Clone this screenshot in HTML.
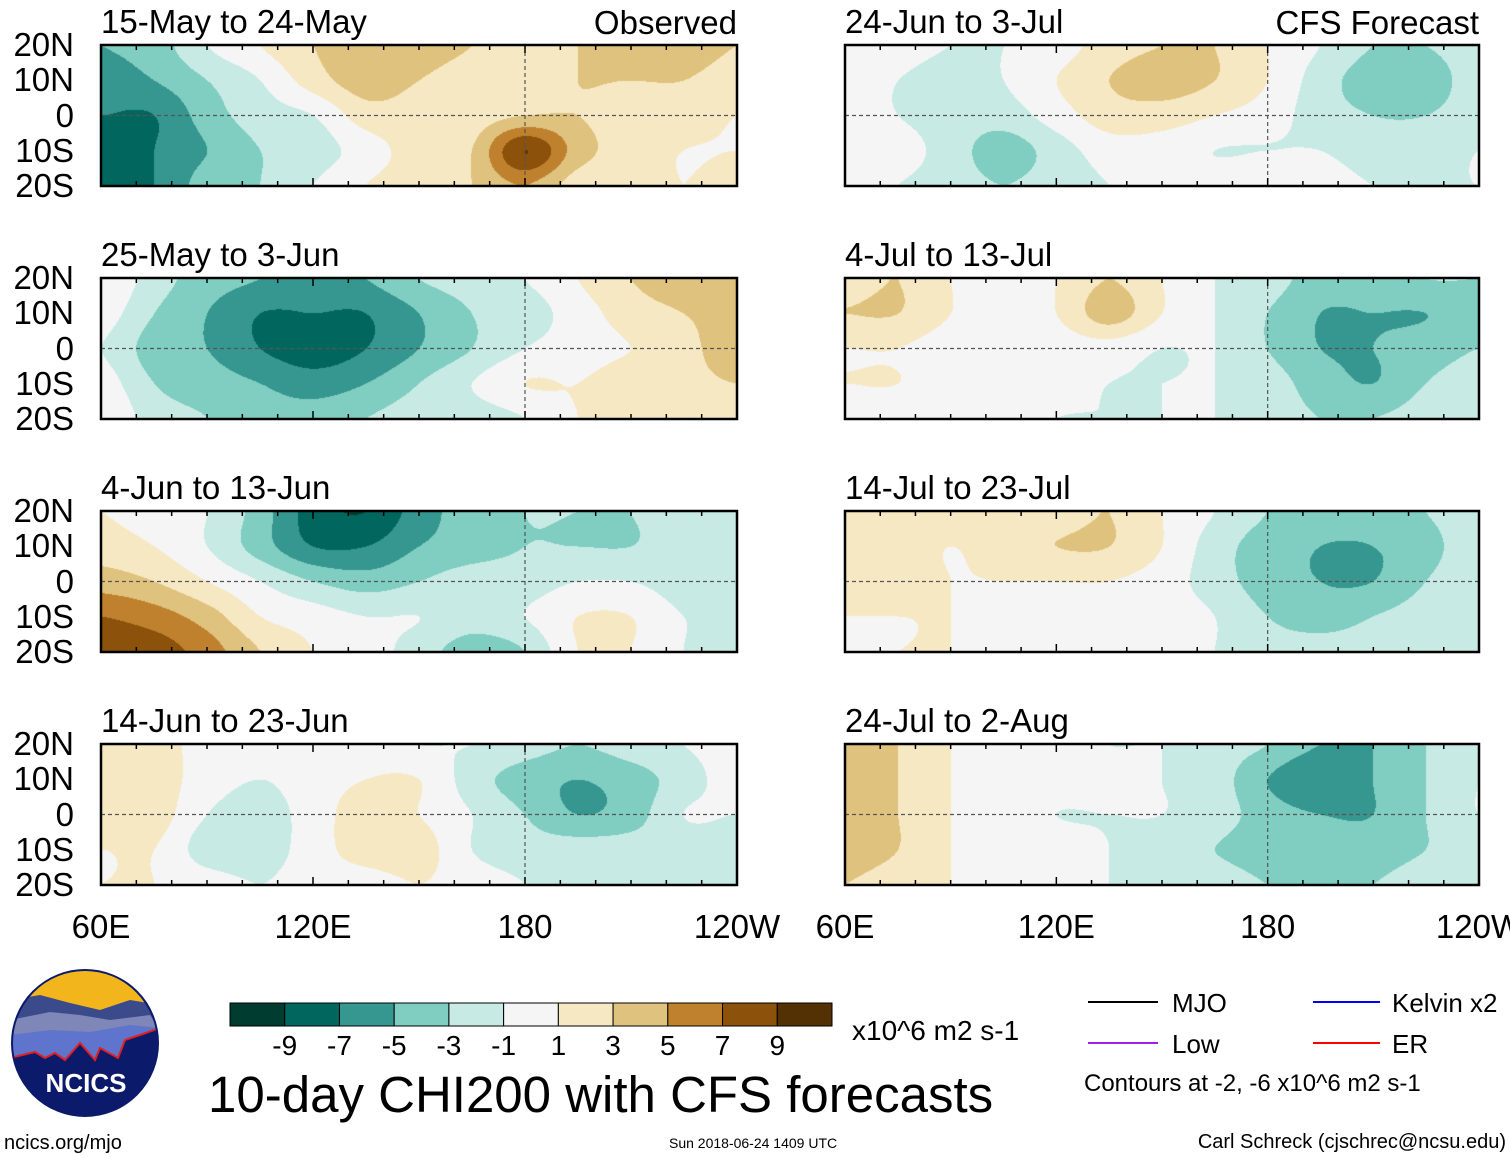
<!DOCTYPE html>
<html><head><meta charset="utf-8">
<style>
body{margin:0;width:1510px;height:1158px;background:#fff;position:relative;overflow:hidden;font-family:"Liberation Sans",sans-serif;color:#000}
.t{position:absolute;white-space:nowrap;line-height:1}
canvas{position:absolute}
</style></head><body>
<svg id="ov" width="1510" height="1158" style="position:absolute;left:0;top:0;z-index:2"></svg>
<div id="txt" style="position:absolute;left:0;top:0;width:1510px;height:1158px;overflow:hidden;z-index:3"></div>

<svg width="1510" height="1158" style="position:absolute;left:0;top:0;z-index:4">
 <g>
  <defs><clipPath id="lc"><circle cx="85" cy="1043" r="73"/></clipPath></defs>
  <g clip-path="url(#lc)">
   <rect x="0" y="960" width="180" height="170" fill="#f2b51c"/>
   <path d="M10 1000 L40 995 L70 1003 L100 1010 L130 1000 L160 1005 L160 1060 L10 1060Z" fill="#3a4a8a"/>
   <path d="M10 1020 L50 1012 L80 1015 L110 1020 L150 1015 L160 1030 L160 1070 L10 1070Z" fill="#7f86b8"/>
   <path d="M10 1035 L50 1030 L90 1032 L130 1025 L160 1028 L160 1070 L10 1070Z" fill="#5f74cc"/>
   <path d="M10 1058 L35 1052 L45 1058 L55 1053 L65 1060 L80 1043 L95 1060 L100 1048 L118 1058 L125 1040 L140 1035 L160 1028 L160 1130 L10 1130Z" fill="#0c1a6b" stroke="#e02020" stroke-width="2"/>
  </g>
  <circle cx="85" cy="1043" r="73" fill="none" stroke="#0c1a6b" stroke-width="2"/>
  <text x="86" y="1092" font-size="26" font-weight="bold" fill="#fff" text-anchor="middle" font-family="Liberation Sans">NCICS</text>
 </g>
 <text x="4" y="1149" font-size="20" font-family="Liberation Sans">ncics.org/mjo</text>
 <g id="cbar"></g>
 <text x="852" y="1040" font-size="28" font-family="Liberation Sans">x10^6 m2 s-1</text>
 <text x="208" y="1112" font-size="51" font-family="Liberation Sans">10-day CHI200 with CFS forecasts</text>
 <text x="669" y="1148" font-size="14" font-family="Liberation Sans">Sun 2018-06-24 1409 UTC</text>
 <text x="1506" y="1148" font-size="20" text-anchor="end" font-family="Liberation Sans">Carl Schreck (cjschrec@ncsu.edu)</text>
 <g font-family="Liberation Sans" font-size="26">
  <line x1="1088" y1="1002" x2="1158" y2="1002" stroke="#000" stroke-width="2"/><text x="1172" y="1012">MJO</text>
  <line x1="1313" y1="1002" x2="1380" y2="1002" stroke="#0000ff" stroke-width="2"/><text x="1392" y="1012">Kelvin x2</text>
  <line x1="1088" y1="1043" x2="1158" y2="1043" stroke="#a020f0" stroke-width="2"/><text x="1172" y="1053">Low</text>
  <line x1="1313" y1="1043" x2="1380" y2="1043" stroke="#ff0000" stroke-width="2"/><text x="1392" y="1053">ER</text>
  <text x="1084" y="1091" font-size="24">Contours at -2, -6 x10^6 m2 s-1</text>
 </g>
</svg>

<script>
// ---- data ----
const lons = [60,75,90,105,120,135,150,165,180,195,210,225,240];
const lats = [20,10,0,-10,-20];
const levels = [-9,-7,-5,-3,-1,1,3,5,7,9];
const colors = ["#003c30","#01665e","#35978f","#80cdc1","#c7eae5","#f5f5f5","#f6e8c3","#dfc27d","#bf812d","#8c510a","#543005"];
const titles = ["15-May to 24-May","25-May to 3-Jun","4-Jun to 13-Jun","14-Jun to 23-Jun","24-Jun to 3-Jul","4-Jul to 13-Jul","14-Jul to 23-Jul","24-Jul to 2-Aug"];
const latLabels = ["20N","10N","0","10S","20S"];
const lonLabels = ["60E","120E","180","120W"];
const p1 = [[-5,-4,-1,1,3,4,4,3,2,3,4,4,3],[-6,-5,-3,-1,2,4,3,2,2,3,3,3,2],[-7,-7,-4,-2,-1,2,2,2,3,3,2,2,1],[-8,-7,-5,-3,-2,0,2,3,9,4,2,1,1],[-8,-7,-4,-3,-1,1,2,3,5,2,2,1,2]];
const p2 = [[1,-2,-4,-5,-6,-5,-3,-2,-1,1,3,4,4],[0,-3,-5,-7,-7,-7,-5,-3,-2,0,2,3,4],[-1,-4,-5,-7,-8,-7,-5,-3,-1,0,1,2,5],[0,-3,-4,-5,-6,-5,-3,-1,1,1,2,2,3],[1,-2,-3,-4,-4,-3,-2,-2,-1,1,1,1,1]];
const p3 = [[1,0,-1,-4,-8,-9,-6,-4,-3,-3,-3,-2,-2],[2,1,-1,-4,-7,-7,-5,-4,-3,-3,-3,-2,-2],[4,3,1,-1,-3,-4,-3,-2,-2,-1,-1,-2,-2],[7,6,4,1,0,-1,-1,-2,-1,1,1,-1,-1],[8,8,6,3,1,0,-2,-4,-3,1,1,-1,-2]];
const p4 = [[1,2,0,0,-1,0,-1,-1,-2,-3,-2,-1,0],[2,2,0,-1,0,1,1,-2,-4,-5,-4,-2,0],[2,2,-1,-2,0,2,1,-1,-3,-5,-4,-1,-1],[1,1,-2,-2,0,2,2,-1,-2,-2,-2,-2,-2],[1,1,0,-1,0,0,1,0,-1,-2,-2,-2,-2]];
const p5 = [[0,0,-1,-1,0,2,3,3,1,-1,-3,-3,-2],[0,-1,-2,-1,1,3,4,3,1,-2,-4,-4,-2],[0,-1,-2,-2,0,2,2,1,0,-2,-3,-3,-2],[1,0,-2,-4,-2,0,0,-1,-1,-1,-2,-2,-1],[0,-1,-2,-3,-2,-1,0,0,1,0,-1,-1,-1]];
const p6 = [[2,3,1,0,1,3,1,-1,-2,-4,-4,-3,-3],[3,3,1,0,1,4,1,-1,-3,-5,-5,-5,-4],[1,1,0,1,0,0,-1,-1,-3,-5,-5,-4,-3],[1,1,0,0,0,-1,-1,-1,-2,-4,-5,-3,-2],[0,0,0,0,-1,-1,-1,-1,-2,-3,-3,-2,-1]];
const p7 = [[2,2,2,2,2,3,1,-1,-3,-4,-4,-3,-1],[2,2,1,2,3,3,1,-2,-4,-5,-5,-4,-1],[2,2,1,1,1,1,0,-2,-4,-5,-5,-3,-1],[1,1,1,0,0,0,0,-1,-3,-4,-3,-2,-1],[1,1,1,0,0,0,0,-1,-2,-2,-2,-2,-1]];
const p8 = [[4,3,1,0,0,-1,-1,-2,-3,-5,-5,-3,-1],[5,3,1,0,0,0,-1,-2,-5,-7,-5,-3,-1],[4,3,1,0,-1,-1,-1,-2,-4,-5,-5,-3,-1],[4,3,1,0,0,-1,-2,-3,-4,-4,-4,-3,-2],[3,2,1,0,0,-1,-2,-2,-3,-3,-3,-2,-2]];
const panelsData = [p1,p2,p3,p4,p5,p6,p7,p8];

// ---- layout ----
const colX = [101,845], colW = [636,634], rowY = [45,278,511,744], H = 141;
const NS = "http://www.w3.org/2000/svg";
const ov = document.getElementById('ov'), txt = document.getElementById('txt');
const xOf = (lon,c)=> colX[c] + (lon-60)/180*colW[c];
const yOf = (lat,r)=> rowY[r] + (20-lat)/40*H;
function colorFor(v){let i=0;while(i<levels.length&&v>levels[i])i++;return colors[i];}
function cr(p0,p1,p2,p3,t){return 0.5*((2*p1)+(-p0+p2)*t+(2*p0-5*p1+4*p2-p3)*t*t+(-p0+3*p1-3*p2+p3)*t*t*t);}
function sample(g,fx,fy){
  const ny=g.length, nx=g[0].length;
  const i=Math.min(Math.floor(fx),nx-2), j=Math.min(Math.floor(fy),ny-2);
  const tx=fx-i, ty=fy-j;
  const G=(a,b)=>g[Math.max(0,Math.min(ny-1,b))][Math.max(0,Math.min(nx-1,a))];
  const rows=[];
  for(let k=-1;k<=2;k++) rows.push(cr(G(i-1,j+k),G(i,j+k),G(i+1,j+k),G(i+2,j+k),tx));
  return cr(rows[0],rows[1],rows[2],rows[3],ty);
}
function addText(s,x,y,size,anchor,name){
  const d=document.createElement('div');d.className='t';d.textContent=s;
  d.style.fontSize=size+'px';d.style.top=y+'px';
  if(anchor==='end'){d.style.right=(1510-x)+'px';}else if(anchor==='middle'){d.style.left=x+'px';d.style.transform='translateX(-50%)';}else d.style.left=x+'px';
  
  
  txt.appendChild(d);
}
function el(tag,attrs){const e=document.createElementNS(NS,tag);for(const k in attrs)e.setAttribute(k,attrs[k]);ov.appendChild(e);return e;}

panelsData.forEach((grid,idx)=>{
  const c = idx<4?0:1, r = idx%4;
  const W = colW[c];
  const cv=document.createElement('canvas');cv.width=W;cv.height=H;
  cv.style.left=colX[c]+'px';cv.style.top=rowY[r]+'px';
  
  
  document.body.appendChild(cv);
  const ctx=cv.getContext('2d');
  const nx=lons.length-1, ny=lats.length-1;
  for(let py=0;py<H;py++){
    const fy=py/(H-1)*ny;
    for(let px=0;px<W;px++){
      const fx=px/(W-1)*nx;
      ctx.fillStyle=colorFor(sample(grid,fx,fy));ctx.fillRect(px,py,1,1);
    }
  }
  const eq=el('line',{x1:colX[c],x2:colX[c]+W,y1:yOf(0,r),y2:yOf(0,r),stroke:'#555','stroke-width':1.2,'stroke-dasharray':'4,3'});
  
  
  const dl=el('line',{x1:xOf(180,c),x2:xOf(180,c),y1:rowY[r],y2:rowY[r]+H,stroke:'#555','stroke-width':1.2,'stroke-dasharray':'4,3'});
  
  
  for(let lon=60;lon<=240;lon+=10){
    const len = (lon%60===0)?8:5;
    el('line',{x1:xOf(lon,c),x2:xOf(lon,c),y1:rowY[r],y2:rowY[r]+len,stroke:'#000','stroke-width':1.5});
    el('line',{x1:xOf(lon,c),x2:xOf(lon,c),y1:rowY[r]+H,y2:rowY[r]+H-len,stroke:'#000','stroke-width':1.5});
  }
  const fr=el('rect',{x:colX[c],y:rowY[r],width:W,height:H,fill:'none',stroke:'#000','stroke-width':2.5});
  
  
  addText(titles[idx], colX[c], rowY[r]-40, 33, 'start', 'panel-title');
  if(c===0){
    latLabels.forEach((l,k)=>addText(l,74,yOf(lats[k],r)-17,33,'end','lat-label'));
  }
  if(r===3){
    lonLabels.forEach((l,k)=>addText(l,xOf(60+k*60,c),rowY[r]+H+25,33,'middle','lon-label'));
  }
});
addText("Observed",737,6,33,'end','observed-label');
addText("CFS Forecast",1479,6,33,'end','cfs-forecast-label');

const cb=document.getElementById('cbar');
const cbX=230, cbW=602, cbY=1003, cbH=23, bw=cbW/colors.length;
colors.forEach((col,i)=>{
  const rct=document.createElementNS(NS,'rect');
  rct.setAttribute('x',cbX+i*bw);rct.setAttribute('y',cbY);rct.setAttribute('width',bw);rct.setAttribute('height',cbH);
  rct.setAttribute('fill',col);rct.setAttribute('stroke','#000');rct.setAttribute('stroke-width','1');
  
  
  cb.appendChild(rct);
});
levels.forEach((lv,i)=>{
  const t=document.createElementNS(NS,'text');
  t.setAttribute('x',cbX+(i+1)*bw);t.setAttribute('y',1055);t.setAttribute('font-size','28');
  t.setAttribute('text-anchor','middle');t.setAttribute('font-family','Liberation Sans');
  t.textContent=lv;
  
  
  cb.appendChild(t);
});
</script>
</body></html>
